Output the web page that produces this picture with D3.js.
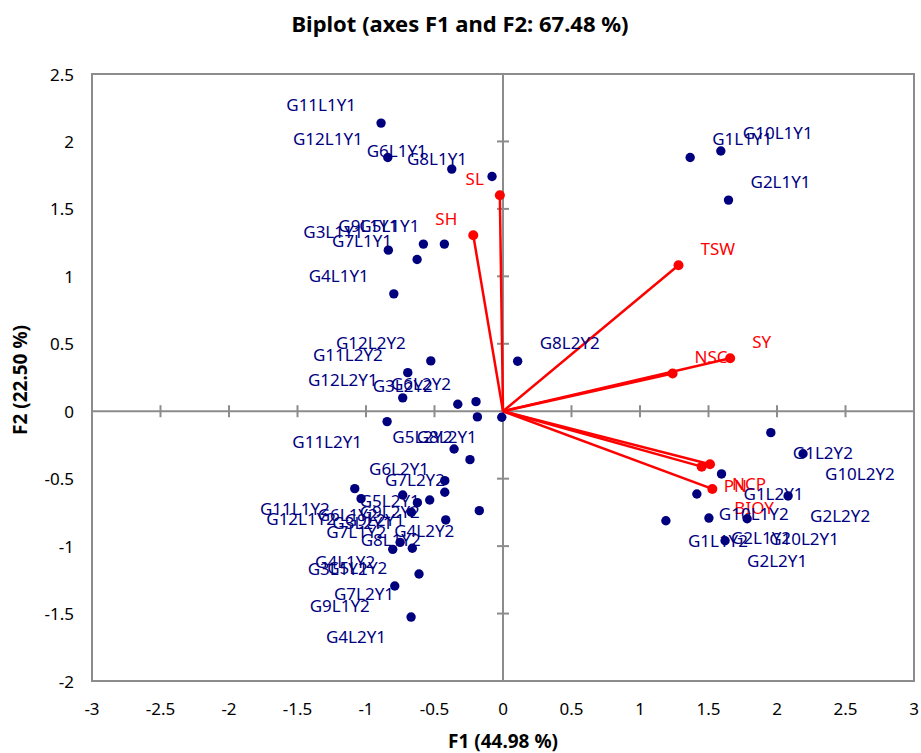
<!DOCTYPE html>
<html><head><meta charset="utf-8">
<script src="https://cdn.jsdelivr.net/npm/d3@7"></script>
<style>body{margin:0;background:#fff}</style>
</head><body><svg id="c" width="921" height="753"></svg>
<script>
const obsNames = ["G11L1Y1","G12L1Y1","G6L1Y1","G8L1Y1","G9L1Y1","G5L1Y1","G3L1Y1","G7L1Y1","G4L1Y1",
  "G10L1Y1","G1L1Y1","G2L1Y1","G8L2Y2","G12L2Y2","G11L2Y2","G12L2Y1","G3L2Y2","G6L2Y2","G5L2Y2","G8L2Y1",
  "G11L2Y1","G6L2Y1","G7L2Y2","G5L2Y1","G9L2Y2","G11L1Y2","G12L1Y2","G6L1Y2","G3L2Y1","G9L2Y1","G7L1Y2",
  "G4L2Y2","G8L1Y2","G4L1Y2","G3L1Y2","G5L1Y2","G7L2Y1","G9L1Y2","G4L2Y1","G1L2Y2","G10L2Y2","G1L2Y1",
  "G10L1Y2","G2L2Y2","G1L1Y2","G2L1Y2","G10L2Y1","G2L2Y1"];
const obsF1 = [-0.890,-0.841,-0.374,-0.080,-0.581,-0.428,-0.837,-0.627,-0.797,
  1.590,1.366,1.646,0.107,-0.527,-0.695,-0.732,-0.330,-0.197,-0.187,-0.009,
  -0.846,-0.357,-0.241,-0.425,-0.425,-1.082,-1.036,-0.732,-0.625,-0.535,-0.669,
  -0.173,-0.418,-0.751,-0.805,-0.662,-0.613,-0.790,-0.671,1.955,2.190,1.595,
  1.415,2.081,1.189,1.503,1.782,1.621];
const obsF2 = [2.136,1.881,1.795,1.740,1.239,1.239,1.194,1.125,0.870,
  1.929,1.881,1.565,0.371,0.373,0.286,0.099,0.052,0.071,-0.042,-0.045,
  -0.077,-0.280,-0.359,-0.515,-0.601,-0.574,-0.648,-0.621,-0.678,-0.658,-0.749,
  -0.737,-0.806,-0.972,-1.024,-1.016,-1.207,-1.296,-1.526,-0.159,-0.315,-0.465,
  -0.614,-0.628,-0.812,-0.792,-0.797,-0.960];
const varNames = ["SL","SH","TSW","SY","NSC","PN","NCP","BIOY"];
const varF1 = [-0.023,-0.217,1.281,1.658,1.238,1.450,1.511,1.528];
const varF2 = [1.601,1.305,1.082,0.393,0.279,-0.411,-0.393,-0.576];
const xTicks = [-3,-2.5,-2,-1.5,-1,-0.5,0,0.5,1,1.5,2,2.5,3];
const yTicks = [-2,-1.5,-1,-0.5,0,0.5,1,1.5,2,2.5];
const titleText = "Biplot (axes F1 and F2: 67.48 %)";
const xTitle = "F1 (44.98 %)";
const yTitle = "F2 (22.50 %)";

const svg = d3.select("#c");
const font = "'Noto Sans', sans-serif";
const x = d3.scaleLinear().domain([-3, 3]).range([92, 914]);
const y = d3.scaleLinear().domain([-2, 2.5]).range([681, 74]);
const grey = "#8c8c8c", navy = "#00007f", red = "#ff0000";

svg.append("rect").attr("width", 921).attr("height", 753).attr("fill", "#fff");

// title
svg.append("text").attr("x", 460).attr("y", 23).attr("text-anchor", "middle")
  .attr("dominant-baseline", "central").attr("font-family", font).attr("font-weight", "bold")
  .attr("font-size", 22).attr("fill", "#000").text(titleText);

// plot frame
svg.append("rect").attr("x", x(-3)).attr("y", y(2.5)).attr("width", x(3) - x(-3)).attr("height", y(-2) - y(2.5))
  .attr("fill", "none").attr("stroke", grey).attr("stroke-width", 2);

// zero axes with crossing ticks
const zx = x(0), zy = y(0);
svg.append("line").attr("x1", x(-3)).attr("x2", x(3)).attr("y1", zy).attr("y2", zy).attr("stroke", grey).attr("stroke-width", 2);
svg.append("line").attr("x1", zx).attr("x2", zx).attr("y1", y(2.5)).attr("y2", y(-2)).attr("stroke", grey).attr("stroke-width", 2);
svg.append("g").selectAll("line").data(xTicks.filter(v => v !== 0)).join("line")
  .attr("x1", d => x(d)).attr("x2", d => x(d)).attr("y1", zy - 6).attr("y2", zy + 6)
  .attr("stroke", grey).attr("stroke-width", 2);
svg.append("g").selectAll("line").data(yTicks.filter(v => v !== 0)).join("line")
  .attr("y1", d => y(d)).attr("y2", d => y(d)).attr("x1", zx - 6).attr("x2", zx + 6)
  .attr("stroke", grey).attr("stroke-width", 2);

// tick labels
svg.append("g").selectAll("text").data(xTicks).join("text")
  .attr("x", d => x(d)).attr("y", 708).attr("text-anchor", "middle").attr("dominant-baseline", "central")
  .attr("font-family", font).attr("font-size", 17).attr("fill", "#000").text(d => String(d));
svg.append("g").selectAll("text").data(yTicks).join("text")
  .attr("x", 74).attr("y", d => y(d)).attr("text-anchor", "end").attr("dominant-baseline", "central")
  .attr("font-family", font).attr("font-size", 17).attr("fill", "#000").text(d => String(d));

// axis titles
svg.append("text").attr("x", 503).attr("y", 741).attr("text-anchor", "middle").attr("dominant-baseline", "central")
  .attr("font-family", font).attr("font-weight", "bold").attr("font-size", 19).attr("fill", "#000").text(xTitle);
svg.append("text").attr("transform", "translate(20,380) rotate(-90)").attr("text-anchor", "middle")
  .attr("dominant-baseline", "central").attr("font-family", font).attr("font-weight", "bold")
  .attr("font-size", 19).attr("fill", "#000").text(yTitle);

// variable vectors
const vars = varNames.map((n, i) => ({ n, a: varF1[i], b: varF2[i] }));
svg.append("g").selectAll("line").data(vars).join("line")
  .attr("x1", zx).attr("y1", zy).attr("x2", d => x(d.a)).attr("y2", d => y(d.b))
  .attr("stroke", red).attr("stroke-width", 2.5);
svg.append("g").selectAll("circle").data(vars).join("circle")
  .attr("cx", d => x(d.a)).attr("cy", d => y(d.b)).attr("r", 5).attr("fill", red);

// observations
const obs = obsNames.map((n, i) => ({ n, a: obsF1[i], b: obsF2[i] }));
svg.append("g").selectAll("circle").data(obs).join("circle")
  .attr("cx", d => x(d.a)).attr("cy", d => y(d.b)).attr("r", 4.7).attr("fill", navy);

svg.append("g").selectAll("text").data(vars).join("text")
  .attr("x", d => x(d.a) + (d.a < 0 ? -16 : 22)).attr("y", d => y(d.b) + (d.b < 0 ? 19 : -17))
  .attr("text-anchor", d => d.a < 0 ? "end" : "start").attr("dominant-baseline", "central")
  .attr("font-family", font).attr("font-size", 17).attr("fill", red).text(d => d.n);

svg.append("g").selectAll("text").data(obs).join("text")
  .attr("x", d => x(d.a) + (d.a < 0 ? -25 : 22)).attr("y", d => y(d.b) + (d.b < 0 ? 19.5 : -18.5))
  .attr("text-anchor", d => d.a < 0 ? "end" : "start").attr("dominant-baseline", "central")
  .attr("font-family", font).attr("font-size", 17).attr("fill", navy).text(d => d.n);
</script>
</body></html>
